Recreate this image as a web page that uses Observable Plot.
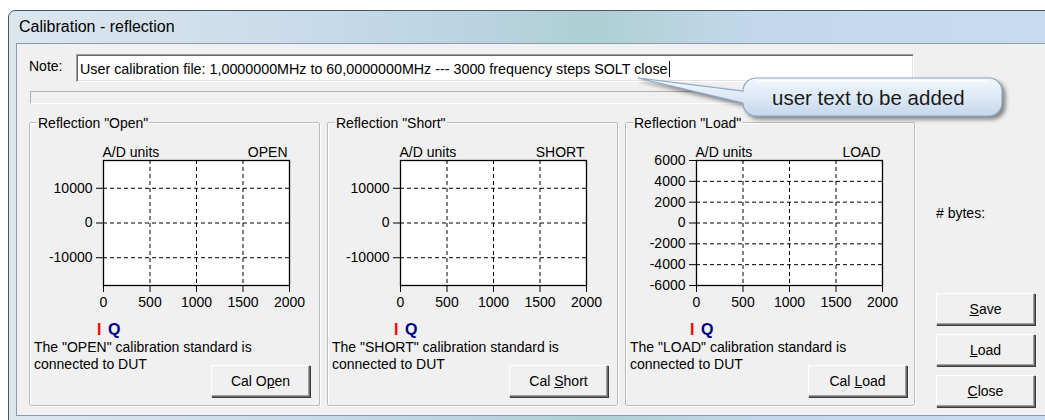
<!DOCTYPE html>
<html><head><meta charset="utf-8">
<script src="https://cdn.jsdelivr.net/npm/d3@7"></script>
<script src="https://cdn.jsdelivr.net/npm/@observablehq/plot@0.6"></script>
<style>
html,body{margin:0;padding:0;width:1045px;height:420px;overflow:hidden;background:#fff;font-family:"Liberation Sans",Arial,sans-serif;font-size:14px;color:#000;}
.abs{position:absolute;}
#win{left:8px;top:10px;width:1060px;height:411px;border:1px solid #4a5866;border-radius:7px 0 0 0;box-sizing:border-box;
 background:linear-gradient(90deg,#dce6ef 0%,#cbdceb 25%,#b9d3e0 45%,#aecfd3 55%,#c2d8ea 70%,#c9dcef 100%);}
#content{left:16px;top:43px;width:1040px;height:373px;background:#f0f0f0;border:1px solid #8e9aa6;box-sizing:border-box;}
#title{left:19px;top:17px;font-size:16px;line-height:20px;}
.group{border:1px solid #b9bdc1;box-shadow:1px 1px 0 #fff inset,1px 1px 0 #fff;box-sizing:border-box;border-radius:2px;}
.gtitle{background:#f0f0f0;padding:0 1px;line-height:16px;white-space:nowrap;}
.btn{box-sizing:border-box;border:1px solid;border-color:#fff #6a6a6a #6a6a6a #fff;box-shadow:inset -1px -1px 0 #a0a0a0, 1px 1px 0 #3c3c3c;background:#f0f0f0;text-align:center;font-size:14px;}
.desc{line-height:17px;white-space:nowrap;}
.iq{font-weight:bold;font-size:16px;line-height:18px;}
</style></head>
<body>
<div id="root"></div>
<script>
// ---- chart data ----
const panelNames = ["OPEN", "SHORT", "LOAD"];
const panelTitles = ['Reflection "Open"', 'Reflection "Short"', 'Reflection "Load"'];
const yAxisLabel = "A/D units";
const xTicks = [0, 500, 1000, 1500, 2000];
const xDomain = [0, 2000];
const yTicksOpen = [-10000, 0, 10000];
const yTicksShort = [-10000, 0, 10000];
const yTicksLoad = [-6000, -4000, -2000, 0, 2000, 4000, 6000];
const yDomainOpen = [-18000, 18000];
const yDomainShort = [-18000, 18000];
const yDomainLoad = [-6000, 6000];
const seriesNames = ["I", "Q"];
const seriesColors = ["#ff0000", "#000080"];
const seriesI = []; // no samples acquired yet (empty plots)
const seriesQ = [];
const buttonLabels = ['Cal O<u>p</u>en', 'Cal <u>S</u>hort', 'Cal <u>L</u>oad'];
const descriptions = [
  ['The "OPEN" calibration standard is', 'connected to DUT'],
  ['The "SHORT" calibration standard is', 'connected to DUT'],
  ['The "LOAD" calibration standard is', 'connected to DUT']
];
const noteText = "User calibration file: 1,0000000MHz to 60,0000000MHz --- 3000 frequency steps SOLT close";

// ---- layout ----
const root = document.getElementById("root");
function el(tag, cls, style, html, id) {
  const e = document.createElement(tag);
  if (cls) e.className = cls;
  if (id) e.id = id;
  Object.assign(e.style, style);
  if (html != null) e.innerHTML = html;
  root.appendChild(e);
  return e;
}
el("div", "abs", {}, "", "win");
el("div", "abs", {}, "", "content");
el("div", "abs", {}, "Calibration - reflection", "title");

// Note row
el("div", "abs", {left: "29px", top: "57px", lineHeight: "18px"}, "Note:");
el("div", "abs", {left: "76px", top: "54px", width: "838px", height: "28px", background: "#fff", boxSizing: "border-box",
  border: "1px solid", borderColor: "#a0a0a0 #fff #fff #a0a0a0", boxShadow: "inset 1px 1px 0 #696969, inset -1px -1px 0 #e3e3e3"});
el("div", "abs", {left: "80px", top: "60px", lineHeight: "18px", fontSize: "14.3px", whiteSpace: "nowrap", color: "#000"}, noteText + '<span style="border-left:1px solid #000;margin-left:1px"></span>');
// progress bar
el("div", "abs", {left: "30px", top: "91px", width: "884px", height: "13px", boxSizing: "border-box",
  border: "1px solid", borderColor: "#b0b0b0 #fff #fff #b0b0b0", background: "#f0f0f0"});

const groupLeft = [29, 327, 625];
const groupWidth = [291, 291, 290];
const frameLeft = [103, 400, 696];
const yTicksAll = [yTicksOpen, yTicksShort, yTicksLoad];
const yDomains = [yDomainOpen, yDomainShort, yDomainLoad];
const btnLeft = [211, 509, 808];
const mL = 63, mR = 22, mT = 30, mB = 32, plotW = 186, plotH = 125;
const fmt = d => String(d);

for (let k = 0; k < 3; k++) {
  el("div", "abs group", {left: groupLeft[k] + "px", top: "122px", width: groupWidth[k] + "px", height: "284px"});
  el("div", "abs gtitle", {left: (groupLeft[k] + 8) + "px", top: "115px"}, panelTitles[k]);
  const dom = yDomains[k];
  const yt = yTicksAll[k];
  const inside = (d, D) => d > D[0] && d < D[1];
  const chart = Plot.plot({
    width: mL + plotW + mR,
    height: mT + plotH + mB,
    marginLeft: mL, marginRight: mR, marginTop: mT, marginBottom: mB,
    x: {domain: xDomain, label: null},
    y: {domain: dom, label: null},
    style: {fontFamily: '"Liberation Sans", Arial, sans-serif', fontSize: "14px", background: "transparent", color: "#000", overflow: "visible"},
    marks: [
      Plot.frame({fill: "#fff", stroke: null}),
      Plot.ruleX(xTicks.filter(d => inside(d, xDomain)), {stroke: "#000", strokeDasharray: "4,3", strokeWidth: 1}),
      Plot.ruleY(yt.filter(d => inside(d, dom)), {stroke: "#000", strokeDasharray: "4,3", strokeWidth: 1}),
      Plot.line(seriesI, {x: "x", y: "y", stroke: seriesColors[0]}),
      Plot.line(seriesQ, {x: "x", y: "y", stroke: seriesColors[1]}),
      Plot.frame({stroke: "#000", strokeWidth: 1.3}),
      Plot.axisX({ticks: xTicks, tickFormat: fmt, tickSize: 7, tickPadding: 5, label: null, stroke: "#000", fill: "#000"}),
      Plot.axisY({ticks: yt, tickFormat: fmt, tickSize: 7, tickPadding: 4, label: null, stroke: "#000", fill: "#000"}),
      Plot.text([yAxisLabel], {frameAnchor: "top-left", dy: -13, dx: -1, textAnchor: "start", fill: "#000"}),
      Plot.text([panelNames[k]], {frameAnchor: "top-right", dy: -13, dx: -2, textAnchor: "end", fill: "#000"})
    ]
  });
  chart.style.position = "absolute";
  chart.style.left = (frameLeft[k] - mL) + "px";
  chart.style.top = (160 - mT) + "px";
  root.appendChild(chart);
  // I / Q legend
  el("div", "abs iq", {left: (frameLeft[k] - 6) + "px", top: "321px", color: seriesColors[0]}, seriesNames[0]);
  el("div", "abs iq", {left: (frameLeft[k] + 5) + "px", top: "321px", color: seriesColors[1]}, seriesNames[1]);
  el("div", "abs desc", {left: (groupLeft[k] + 5) + "px", top: "339px"}, descriptions[k].join("<br>"));
  el("div", "abs btn", {left: btnLeft[k] + "px", top: "365px", width: "99px", height: "32px", lineHeight: "30px"}, buttonLabels[k]);
}

el("div", "abs", {left: "936px", top: "204px", lineHeight: "18px"}, "# bytes:");
el("div", "abs btn", {left: "936px", top: "293px", width: "99px", height: "32px", lineHeight: "30px"}, "<u>S</u>ave");
el("div", "abs btn", {left: "936px", top: "334px", width: "99px", height: "32px", lineHeight: "30px"}, "<u>L</u>oad");
el("div", "abs btn", {left: "936px", top: "375px", width: "99px", height: "32px", lineHeight: "30px"}, "<u>C</u>lose");

// callout annotation
const ns = "http://www.w3.org/2000/svg";
const cs = document.createElementNS(ns, "svg");
cs.setAttribute("width", 390); cs.setAttribute("height", 60);
Object.assign(cs.style, {position: "absolute", left: "630px", top: "70px", overflow: "visible", filter: "drop-shadow(3px 3px 2px rgba(0,0,0,0.45))"});
cs.innerHTML = `<defs><linearGradient id="cg" x1="0" y1="0" x2="0" y2="1">
<stop offset="0" stop-color="#f2f7fc"/><stop offset="0.5" stop-color="#dde9f5"/><stop offset="1" stop-color="#c4d7ec"/></linearGradient></defs>
<path d="M126,8 H359 A13,13 0 0 1 372,21 V33 A13,13 0 0 1 359,46 H126 A13,13 0 0 1 113,33 L8,8 L113,21 A13,13 0 0 1 126,8 Z" fill="url(#cg)" stroke="#8ea7c4" stroke-width="1.2"/>
<path d="M128,11 H357" stroke="#fff" stroke-width="1.5" opacity="0.9"/>`;
root.appendChild(cs);
el("div", "abs", {left: "772px", top: "86px", fontSize: "20.5px", lineHeight: "24px", color: "#1a1a1a", whiteSpace: "nowrap"}, "user text to be added");
</script>
</body></html>
